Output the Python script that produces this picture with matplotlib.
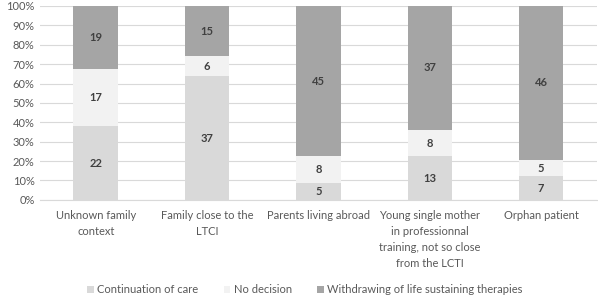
import numpy as np
import matplotlib.pyplot as plt
from matplotlib.ticker import PercentFormatter

plt.rcParams['font.family'] = ['Lato', 'DejaVu Sans']

categories = ['Unknown family\ncontext', 'Family close to the\nLTCI', 'Parents living abroad',
              'Young single mother\nin professionnal\ntraining, not so close\nfrom the LCTI',
              'Orphan patient']
continuation = [22, 37, 5, 13, 7]
no_decision = [17, 6, 8, 8, 5]
withdrawing = [19, 15, 45, 37, 46]

series = [('Continuation of care', continuation, '#d9d9d9'),
          ('No decision', no_decision, '#f2f2f2'),
          ('Withdrawing of life sustaining therapies', withdrawing, '#a5a5a5')]

totals = np.array(continuation) + np.array(no_decision) + np.array(withdrawing)
x = np.arange(len(categories))

fig = plt.figure(figsize=(5.98, 2.97), dpi=100)
ax = fig.add_axes([0.067, 0.327, 0.931, 0.653])

bottom = np.zeros(len(categories))
for name, vals, color in series:
    frac = np.array(vals) / totals * 100
    ax.bar(x, frac, 0.4, bottom=bottom, color=color, label=name, zorder=2)
    for xi, b, f, v in zip(x, bottom, frac, vals):
        ax.text(xi, b + f / 2, str(v), ha='center', va='center',
                fontsize=8, fontweight='bold', color='#404040', zorder=3)
    bottom += frac

ax.set_xlim(-0.5, len(categories) - 0.5)
ax.set_ylim(0, 100)
ax.set_yticks(np.arange(0, 101, 10))
ax.yaxis.set_major_formatter(PercentFormatter(decimals=0))
ax.set_xticks(x)
ax.set_xticklabels(categories, fontsize=8, color='#595959', linespacing=1.55)
ax.tick_params(axis='y', labelsize=8, labelcolor='#595959', length=0, pad=4)
ax.tick_params(axis='x', length=0, pad=7.5)
ax.grid(axis='y', color='#d9d9d9', linewidth=0.8, zorder=0)
for s in ['top', 'right', 'left']:
    ax.spines[s].set_visible(False)
ax.spines['bottom'].set_color('#d9d9d9')

fig.legend(loc='lower center', bbox_to_anchor=(0.51, -0.028), ncol=3, frameon=False,
           fontsize=8, handlelength=0.6, handleheight=0.6, columnspacing=2.3,
           handletextpad=0.3, labelcolor='#595959')

fig.savefig('out.png', dpi=100)
